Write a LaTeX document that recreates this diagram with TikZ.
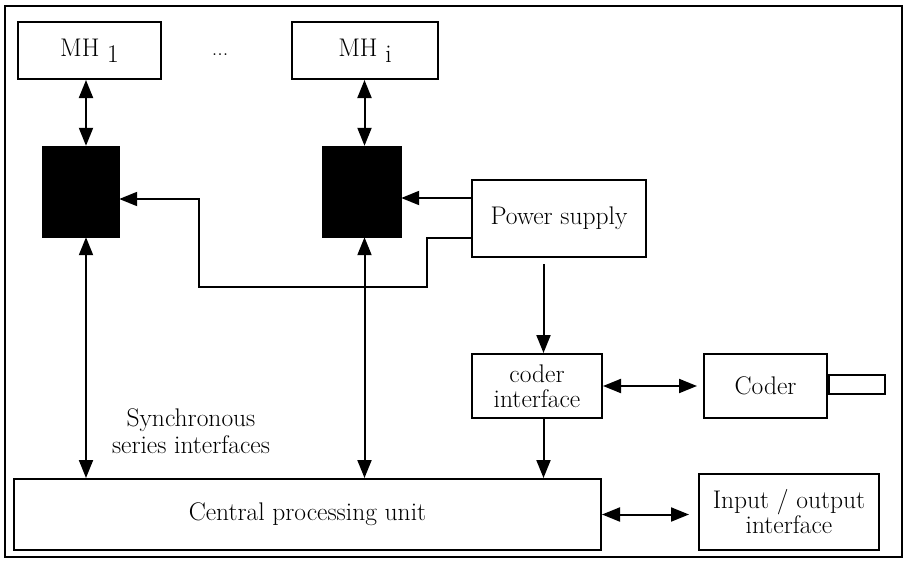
\documentclass[tikz,border=0pt]{standalone}
\usepackage{fontspec}
\usepackage{tikz}
\usetikzlibrary{arrows.meta}

\begin{document}
\begin{tikzpicture}[
    x=1pt, y=-1pt,
    every node/.style={font=\fontsize{25.5}{25}\selectfont},
    >={Triangle[length=18pt, width=14pt]},
    box/.style={draw, line width=2pt, inner sep=0pt, align=center},
    blk/.style={fill=black, draw=black, inner sep=0pt},
    link/.style={line width=2pt},
]

\useasboundingbox (0,0) rectangle (905,568);

% === Outer frame ===
\draw[line width=1.6pt] (5,6) rectangle (902,557);

% === Memory heads (top row) ===
\node[box, minimum width=143pt, minimum height=57pt] (mh1) at (89.5,50.5)
    {MH \raisebox{-6pt}{1}};
\node[box, minimum width=146pt, minimum height=57pt] (mhi) at (365,50.5)
    {MH \raisebox{-6pt}{i}};
\node (dots) at (220,55) {\fontsize{22}{22}\selectfont ...};

% === Driver blocks (filled) ===
\node[blk, minimum width=77pt, minimum height=91pt] (blk1) at (80.5,191.5) {};
\node[blk, minimum width=79pt, minimum height=91pt] (blk2) at (361.5,191.5) {};

% === Right-hand blocks ===
\node[box, minimum width=174pt, minimum height=77pt] (ps) at (559,218.5) {Power supply};
\node[box, minimum width=130pt, minimum height=64pt] (ci) at (537,386)
    {coder\\interface};
\node[box, minimum width=123pt, minimum height=64pt] (coder) at (765.5,386) {Coder};
\node[box, minimum width=56pt, minimum height=19pt, anchor=west] (shaft)
    at ([yshift=1.5pt]coder.east) {};

% === Bottom row ===
\node[box, minimum width=587pt, minimum height=71pt] (cpu) at (307.5,514.5)
    {Central processing unit};
\node[box, minimum width=180pt, minimum height=76pt] (io) at (789,512)
    {Input / output\\interface};

\node[align=center] (sync) at (191,431) {Synchronous\\[2pt]series interfaces};

% Bus lines
\coordinate (bus1) at (86,0);
\coordinate (busi) at (364.5,0);
\coordinate (flow) at (543.5,0);

% === Serial interfaces ===
\draw[link, <->] (mh1.south -| bus1) -- (blk1.north -| bus1);
\draw[link, <->] (mhi.south -| busi) -- (blk2.north -| busi);
\draw[link, <->] (blk1.south -| bus1) -- (cpu.north -| bus1);
\draw[link, <->] (blk2.south -| busi) -- (cpu.north -| busi);

% === Power distribution ===
\coordinate (bendA) at (427,238);
\coordinate (bendB) at (427,287);
\coordinate (bendC) at (199,287);
\coordinate (bendD) at (199,199);
\draw[link, ->] (ps.west |- bendA) -- (bendA) -- (bendB) -- (bendC) -- (bendD)
    -- (bendD -| blk1.east);
\draw[link, ->] ([yshift=20.5pt]ps.west) -- ([yshift=20.5pt]ps.west -| blk2.east);
\draw[link, ->] ([yshift=-6pt]ps.south -| flow) -- (ci.north -| flow);

% === Coder and I/O ===
\draw[link, ->] (ci.south -| flow) -- (cpu.north -| flow);
\draw[link, <->] (ci.east) -- ([xshift=-6pt]coder.west);
\draw[link, <->] (cpu.east) -- ([xshift=-9pt]cpu.east -| io.west);

\end{tikzpicture}
\end{document}
